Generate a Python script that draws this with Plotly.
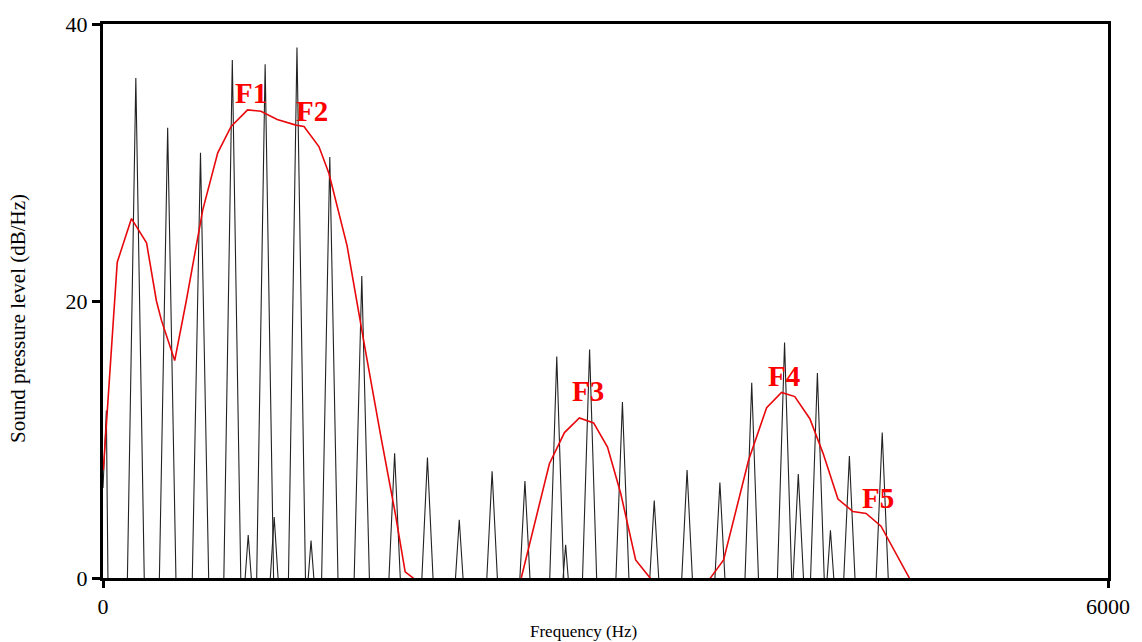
import plotly.graph_objects as go

# ---- data ----
# harmonic peaks of the narrow-band spectrum (Hz, dB/Hz)
harm_freq = [196, 386, 582, 772, 968, 1158, 1354, 1545, 1741, 1937, 2127, 2323,
             2519, 2709, 2905, 3101, 3291, 3487, 3683, 3873, 4069, 4265, 4456, 4652]
harm_level = [36.1, 32.5, 30.7, 37.4, 37.1, 38.3, 30.4, 21.8, 9.0, 8.7, 4.2, 7.7,
              7.0, 16.0, 16.5, 12.7, 5.6, 7.8, 6.9, 14.1, 17.0, 14.8, 8.8, 10.5]
# low-frequency start of the spectrum
start_freq = [0, 20]
start_level = [6.5, 12.1]
# small in-between peaks
minor_freq = [867, 1022, 1242, 2762, 4151, 4343]
minor_level = [3.1, 4.4, 2.7, 2.4, 7.5, 3.45]
trough_level = -7.0      # spectrum valleys lie below the 0 dB axis
lobe_half_width = 60     # Hz, from peak to valley

# LPC envelope (Hz, dB/Hz)
lpc_freq = [2, 71, 85, 170, 260, 319, 349, 428, 497, 596, 685, 765, 863, 943, 1040,
            1152, 1200, 1289, 1349, 1457, 1517, 1567, 1656, 1745, 1804, 1883, 1920,
            2470, 2497, 2576, 2665, 2755, 2844, 2929, 3012, 3091, 3180, 3266, 3290,
            3600, 3626, 3705, 3854, 3962, 4051, 4130, 4220, 4299, 4388, 4477, 4556,
            4645, 4814, 4840]
lpc_level = [7.8, 20.0, 22.8, 25.95, 24.2, 20.0, 18.6, 15.7, 20.0, 26.6, 30.7, 32.6,
             33.8, 33.7, 33.1, 32.7, 32.6, 31.15, 29.2, 24.0, 20.0, 16.4, 10.4, 4.65,
             0.45, -0.3, -1.0, -1.0, 0.0, 3.9, 8.25, 10.5, 11.56, 11.2, 9.45, 6.1, 1.3,
             0.0, -1.0, -1.0, 0.0, 1.3, 8.5, 12.3, 13.4, 13.1, 11.5, 9.0, 5.7, 4.8,
             4.66, 3.74, 0.0, -1.0]

formant_labels = ["F1", "F2", "F3", "F4", "F5"]
formant_x = [883, 1248, 2897, 4063, 4628]
formant_y = [35.0, 33.7, 13.5, 14.6, 5.8]

# ---- build the spectrum polyline from the peaks ----
spec_x = list(start_freq) + [start_freq[-1] + 15]
spec_y = list(start_level) + [trough_level]
for f, h in zip(harm_freq, harm_level):
    spec_x += [f - lobe_half_width, f, f + lobe_half_width]
    spec_y += [trough_level, h, trough_level]

minor_x, minor_y = [], []
for f, h in zip(minor_freq, minor_level):
    minor_x += [f - lobe_half_width, f, f + lobe_half_width, None]
    minor_y += [trough_level, h, trough_level, None]

serif = "Times New Roman, Liberation Serif, serif"

fig = go.Figure()
fig.add_trace(go.Scatter(x=spec_x, y=spec_y, mode="lines",
                         line=dict(color="#222222", width=1.1), hoverinfo="skip"))
fig.add_trace(go.Scatter(x=minor_x, y=minor_y, mode="lines",
                         line=dict(color="#222222", width=1.1), hoverinfo="skip"))
fig.add_trace(go.Scatter(x=lpc_freq, y=lpc_level, mode="lines",
                         line=dict(color="#e8080c", width=1.6), hoverinfo="skip"))

for lab, fx, fy in zip(formant_labels, formant_x, formant_y):
    fig.add_annotation(x=fx, y=fy, text="<b>%s</b>" % lab, showarrow=False,
                       font=dict(family=serif, size=29, color="#ff0000"),
                       xanchor="center", yanchor="middle")

fig.add_annotation(xref="paper", yref="paper", x=0, xshift=583 - 103, y=0,
                   yshift=-53, text="Frequency (Hz)", showarrow=False,
                   font=dict(family=serif, size=17, color="black"),
                   xanchor="center", yanchor="middle")
fig.add_annotation(xref="paper", yref="paper", x=0, xshift=-85,
                   y=(578 - 318) / 556, text="Sound pressure level (dB/Hz)",
                   textangle=-90, showarrow=False,
                   font=dict(family=serif, size=21, color="black"),
                   xanchor="center", yanchor="middle")

fig.update_layout(
    width=1142, height=642,
    margin=dict(l=103, r=29, t=22, b=64),
    plot_bgcolor="white", paper_bgcolor="white",
    showlegend=False,
    font=dict(family=serif, color="black"),
)
fig.update_xaxes(range=[0, 6000], tickvals=[0, 6000], ticktext=["0", "6000"],
                 showgrid=False, zeroline=False, showline=True, linecolor="black",
                 linewidth=3, mirror=True, ticks="outside", ticklen=7, tickwidth=2.5,
                 tickcolor="black", tickfont=dict(family=serif, size=22, color="black"))
fig.update_yaxes(range=[0, 40], tickvals=[0, 20, 40], ticktext=["0", "20", "40"],
                 showgrid=False, zeroline=False, showline=True, linecolor="black",
                 linewidth=3, mirror=True, ticks="outside", ticklen=8, tickwidth=2.5,
                 tickcolor="black", tickfont=dict(family=serif, size=22, color="black"))

fig.write_html("out.html")
